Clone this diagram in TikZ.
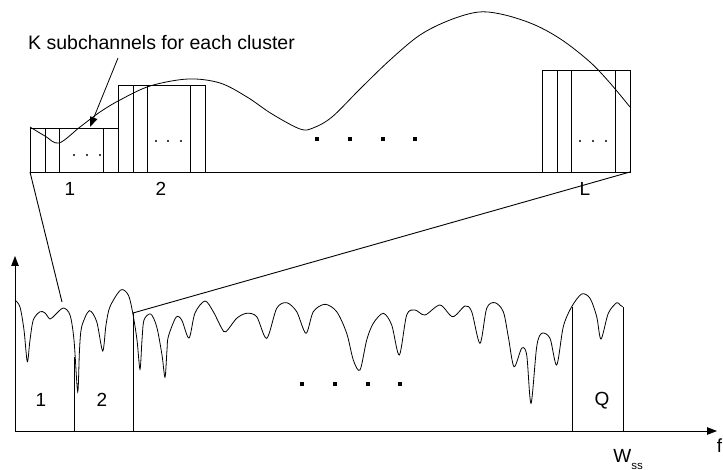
\documentclass[tikz,border=0pt]{standalone}
\usepackage{fontspec}
\setmainfont{Liberation Sans}
\usetikzlibrary{arrows.meta}

\begin{document}
\begin{tikzpicture}[x=1pt,y=-1pt,
  line width=.8pt,
  lbl/.style={font=\fontsize{19}{21}\selectfont,inner sep=0pt},
  arrow/.style={-{Triangle[length=10pt,width=7.5pt]}},
  zoomline/.style={line width=.9pt}]
\useasboundingbox (0,0) rectangle (723,470);

% clusters of the top band
\draw (30,172) -- (630,172);
\foreach \a/\b/\t in {30/118/128,118/205/85,542/630/70}{
  \draw (\a,172) rectangle (\b,\t);
  \draw (\a+15,172) -- (\a+15,\t) (\a+29,172) -- (\a+29,\t) (\b-15,172) -- (\b-15,\t);
}
\foreach \x/\y in {74/155,87/155,100/155,156/141,168/141,181/141,580/141,593/141,606/141}
  \fill (\x,\y) circle (1.1pt);
\foreach \x in {317,350,383,415}
  \fill (\x-2,137) rectangle (\x+2,141);

\draw plot[smooth,tension=.55] coordinates {(30,127) (45,136) (59,143) (80,127) (100,112)
  (120,100) (150,86) (188,79) (220,83) (247,97) (272,114) (300,129) (313,128) (332,117)
  (360,89) (390,60) (420,35) (450,20) (479,12) (505,15) (535,25) (562,40) (590,62)
  (610,83) (630,107)};

\node[lbl] (c1) at (70,189) {1};
\node[lbl] (c2) at (161,189) {2};
\node[lbl] (cL) at (585,189) {L};
\node[lbl,font=\fontsize{19.5}{21}\selectfont] (ktext) at (161.5,43) {K subchannels for each cluster};
\coordinate (ktail) at (118,58);
\coordinate (khead) at (90,127);
\draw[arrow] (ktail) -- (khead);

% spectrum below
\coordinate (origin) at (15,431);
\draw[arrow] (origin) -- (717,431);
\draw[arrow] (origin) -- (15,256);
\node[lbl,anchor=east] (flbl) at (722.5,446) {f};
\node[lbl,anchor=base west] (wss) at (613,462) {W\raisebox{-7pt}{\fontsize{11.5}{12}\selectfont ss}};

\draw plot[smooth,tension=.5] coordinates {(15,300) (20,307) (24,330) (27.3,361.7) (30,340)
  (33.3,320) (40,311.7) (45,313) (50,319) (55,315) (63.3,308) (70,315) (74,340) (77.7,391.7)
  (79.5,350) (81.7,326.7) (89.3,310.7) (96.7,321.7) (102.7,351) (106,325) (110,306.7)
  (120.7,290) (128.3,295) (132.7,312.7) (137,340) (140,369.3) (142,340) (144,320)
  (150.7,314) (156.7,326.7) (162,355) (165,377.3) (167,350) (168.3,336.7) (176,317.3)
  (181.7,320) (189,338) (195,313) (205,301) (213.3,311.7) (221.7,328.3) (226,331.7)
  (236.7,318.3) (246.7,313.3) (256.7,316.7) (266.7,338.3) (276.7,308.3) (286.7,302.7)
  (296.7,311.7) (306,333.3) (313.3,311.7) (325,304.3) (336.7,311.7) (346.7,333.3)
  (353.3,360) (360,370) (366.7,340) (373.3,323.3) (383.3,313.3) (391.7,325) (399.3,355)
  (406.7,315) (415,310) (425,315) (440,305) (452.7,316.7) (465,306) (471.7,311.7)
  (480,343.3) (486.7,308.3) (495,302.7) (503.3,311.7) (508.3,336.7) (514,366.7)
  (521.7,348.3) (526.7,355) (531,403.3) (536.7,346.7) (541.7,333.3) (550,338.3)
  (556.7,365) (563.3,326.7) (571.7,306.7) (581.7,294) (590,298.3) (596.7,316.7)
  (601,339) (608.3,313.3) (616.7,302.7) (620,305) (622.7,306.7)};

\draw (74,431) -- (74,357);
\draw (133,431) -- (133,313);
\draw (572,431) -- (572,307);
\draw (623,431) -- (623,307);
\foreach \x in {302,335,368,400}
  \fill (\x-2,382) rectangle (\x+2,386);
\node[lbl] (b1) at (41,400) {1};
\node[lbl] (b2) at (102,400) {2};
\node[lbl] (bQ) at (602,401) {Q};

% zoom lines between the two bands
\coordinate (topleft) at (30,172);
\coordinate (topright) at (630,172);
\coordinate (botleft) at (62,302);
\coordinate (botright) at (133,313);
\draw[zoomline] (topleft) -- (botleft);
\draw[zoomline] (topright) -- (botright);
\end{tikzpicture}
\end{document}
